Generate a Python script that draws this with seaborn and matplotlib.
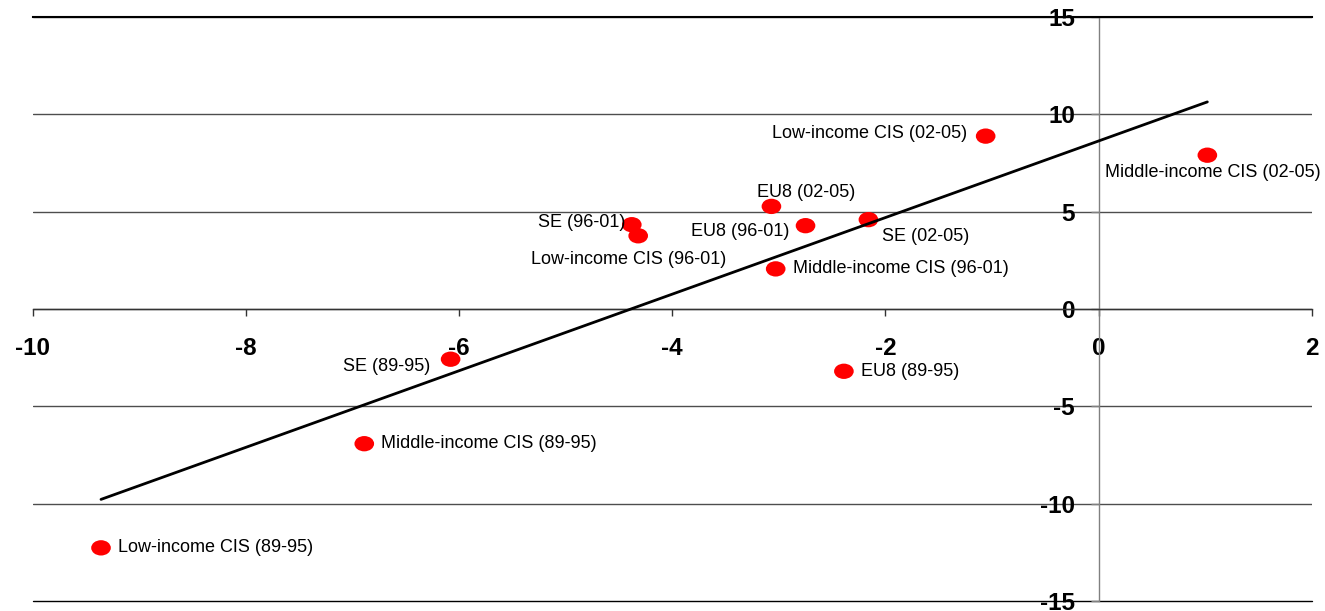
import matplotlib
matplotlib.use("Agg")
import matplotlib.pyplot as plt
import seaborn as sns
import pandas as pd
from matplotlib.path import Path
from matplotlib.markers import MarkerStyle
from matplotlib.transforms import Affine2D

# ---------------- data ----------------
names = [
    "Low-income CIS (89-95)",
    "Middle-income CIS (89-95)",
    "SE (89-95)",
    "EU8 (89-95)",
    "SE (96-01)",
    "Low-income CIS (96-01)",
    "Middle-income CIS (96-01)",
    "EU8 (96-01)",
    "EU8 (02-05)",
    "SE (02-05)",
    "Low-income CIS (02-05)",
    "Middle-income CIS (02-05)",
]
x_vals = [-9.36, -6.89, -6.08, -2.39, -4.38, -4.32, -3.03, -2.75, -3.07, -2.16, -1.06, 1.02]
y_vals = [-12.27, -6.92, -2.58, -3.20, 4.33, 3.76, 2.06, 4.28, 5.27, 4.59, 8.88, 7.90]
x_ticks = [-10, -8, -6, -4, -2, 0, 2]
y_ticks = [-15, -10, -5, 0, 5, 10, 15]

# ---------------- layout (label offsets in pixels) ----------------
label_layout = {
    "Low-income CIS (89-95)": (17, 0, "left"),
    "Middle-income CIS (89-95)": (17, 0, "left"),
    "SE (89-95)": (-20, -7, "right"),
    "EU8 (89-95)": (17, 0, "left"),
    "SE (96-01)": (-6, 2, "right"),
    "Low-income CIS (96-01)": (-10, -24, "center"),
    "Middle-income CIS (96-01)": (17, 0, "left"),
    "EU8 (96-01)": (-16, -6, "right"),
    "EU8 (02-05)": (-14, 14, "left"),
    "SE (02-05)": (14, -17, "left"),
    "Low-income CIS (02-05)": (-19, 3, "right"),
    "Middle-income CIS (02-05)": (5, -17, "center"),
}

df = pd.DataFrame({"name": names, "x": x_vals, "y": y_vals})

sns.set_style("white")
plt.rcParams["font.family"] = ["Liberation Sans", "DejaVu Sans"]

fig = plt.figure(figsize=(13.25, 6.11), dpi=100)
ax = fig.add_axes([0.02475, 0.01637, 0.99004 - 0.02475, 0.9722 - 0.01637])

ellipse = MarkerStyle(Path.unit_circle().transformed(Affine2D().scale(1.0, 0.78)))
sns.scatterplot(data=df, x="x", y="y", ax=ax, marker=ellipse, s=200,
                color="#FF0000", edgecolor="none", linewidth=0, zorder=3)
sns.regplot(data=df, x="x", y="y", ax=ax, scatter=False, ci=None, truncate=True,
            color="black", line_kws={"lw": 2.0, "zorder": 4})

for n, xv, yv in zip(names, x_vals, y_vals):
    dx, dy, ha = label_layout[n]
    ax.annotate(n, (xv, yv), xytext=(dx, dy), textcoords="offset pixels",
                ha=ha, va="center", fontsize=13, color="black", zorder=5)

ax.set_xlim(-10, 2)
ax.set_ylim(-15, 15)
ax.set_xticks(x_ticks)
ax.set_yticks(y_ticks)
ax.set_xticklabels([str(t) for t in x_ticks])
ax.set_yticklabels([str(t) for t in y_ticks])
ax.set_xlabel("")
ax.set_ylabel("")

ax.spines["left"].set_position(("data", 0))
ax.spines["bottom"].set_position(("data", 0))
ax.spines["left"].set_color("#808080")
ax.spines["left"].set_linewidth(1.0)
ax.spines["bottom"].set_color("#333333")
ax.spines["bottom"].set_linewidth(1.0)
ax.spines["right"].set_visible(False)
ax.spines["top"].set_visible(True)
ax.spines["top"].set_color("black")
ax.spines["top"].set_linewidth(1.5)

ax.tick_params(axis="x", direction="out", length=5, width=1, color="#333333",
               pad=15, labelsize=17.5, labelcolor="black", bottom=True)
ax.tick_params(axis="y", direction="out", length=6, width=1, color="#808080",
               pad=11, labelsize=17.5, labelcolor="black", left=True)
for lab in ax.get_xticklabels() + ax.get_yticklabels():
    lab.set_fontweight("bold")

ax.yaxis.grid(True, color="#4d4d4d", linewidth=1.0)
ax.xaxis.grid(False)
ax.set_axisbelow(True)
fig.canvas.draw()
gl = ax.yaxis.get_gridlines()
gl[0].set_color("black")
gl[0].set_clip_on(False)

fig.savefig("out.png", dpi=100, facecolor="white")
